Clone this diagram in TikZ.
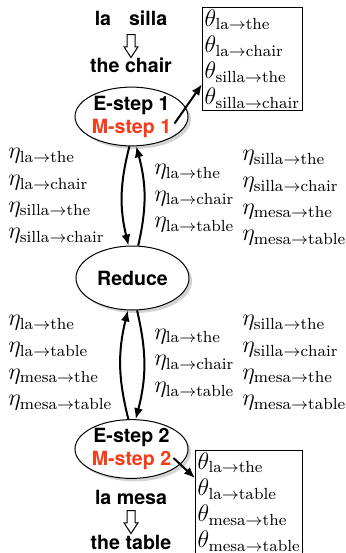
\documentclass[tikz,border=0pt]{standalone}
\usepackage{fontspec}
\setsansfont{TeX Gyre Heros}
\usetikzlibrary{arrows.meta, shapes.geometric, shapes.arrows, shadows, positioning}
\definecolor{mstepred}{HTML}{F43C18}

\begin{document}
\begin{tikzpicture}[
  x=0.5pt, y=-0.5pt,
  word/.style={font=\fontsize{9.8}{12}\selectfont\sffamily\bfseries, inner sep=0pt},
  stepnode/.style={ellipse, draw, fill=white, line width=0.5pt, inner sep=0pt,
                   minimum width=56.5pt, minimum height=28pt, align=center,
                   font=\fontsize{9.8}{11.5}\selectfont\sffamily\bfseries,
                   drop shadow={shadow xshift=1.5pt, shadow yshift=-1.5pt, opacity=0.35}},
  hollow/.style={single arrow, draw, fill=white, line width=0.5pt, inner sep=1.75pt,
                 shape border rotate=270, minimum height=11.5pt, minimum width=6.5pt,
                 single arrow head extend=1.5pt, single arrow tip angle=66},
  plist/.style={align=left, inner sep=0pt, font=\fontsize{11.5}{13.3}\selectfont},
  pbox/.style={draw, line width=0.6pt, align=left, inner sep=1pt,
               font=\fontsize{11.5}{13.1}\selectfont},
  arr/.style={-{Latex[length=5.5pt,width=4.5pt]}, line width=1pt},
]
\clip (0,0) rectangle (346,553);

%% FIRST SENTENCE PAIR
\node[word]   (src1)  at (131,18) {la\hspace{9pt}silla};
\node[hollow] (conv1) at (131,43) {};
\node[word]   (tgt1)  at (131,65) {the chair};

%% E-step 1 and its parameters
\node[stepnode, minimum height=28.5pt] (estep1) at (131.5,116.5)
  {E-step 1\\\textcolor{mstepred}{M-step 1}};
\node[pbox, anchor=north west] (theta1) at (202,7)
  {$\theta_{\mathrm{la}\to\mathrm{the}}$\\
   $\theta_{\mathrm{la}\to\mathrm{chair}}$\\
   $\theta_{\mathrm{silla}\to\mathrm{the}}$\\
   $\theta_{\mathrm{silla}\to\mathrm{chair}}$};

%% counts sent up and down (first pass)
\node[plist, anchor=west] (eta1l) at (8,196)
  {$\eta_{\mathrm{la}\to\mathrm{the}}$\\
   $\eta_{\mathrm{la}\to\mathrm{chair}}$\\
   $\eta_{\mathrm{silla}\to\mathrm{the}}$\\
   $\eta_{\mathrm{silla}\to\mathrm{chair}}$};
\node[plist, anchor=west] (eta1m) at (154,198.5)
  {$\eta_{\mathrm{la}\to\mathrm{the}}$\\
   $\eta_{\mathrm{la}\to\mathrm{chair}}$\\
   $\eta_{\mathrm{la}\to\mathrm{table}}$};
\node[plist, anchor=west] (eta1r) at (242,198)
  {$\eta_{\mathrm{silla}\to\mathrm{the}}$\\
   $\eta_{\mathrm{silla}\to\mathrm{chair}}$\\
   $\eta_{\mathrm{mesa}\to\mathrm{the}}$\\
   $\eta_{\mathrm{mesa}\to\mathrm{table}}$};

%% REDUCE
\node[stepnode, minimum height=32pt] (reduce) at (132.5,278) {Reduce};

%% counts sent up and down (second pass)
\node[plist, anchor=west] (eta2l) at (8,363)
  {$\eta_{\mathrm{la}\to\mathrm{the}}$\\
   $\eta_{\mathrm{la}\to\mathrm{table}}$\\
   $\eta_{\mathrm{mesa}\to\mathrm{the}}$\\
   $\eta_{\mathrm{mesa}\to\mathrm{table}}$};
\node[plist, anchor=west] (eta2m) at (154,363)
  {$\eta_{\mathrm{la}\to\mathrm{the}}$\\
   $\eta_{\mathrm{la}\to\mathrm{chair}}$\\
   $\eta_{\mathrm{la}\to\mathrm{table}}$};
\node[plist, anchor=west] (eta2r) at (242,363)
  {$\eta_{\mathrm{silla}\to\mathrm{the}}$\\
   $\eta_{\mathrm{silla}\to\mathrm{chair}}$\\
   $\eta_{\mathrm{mesa}\to\mathrm{the}}$\\
   $\eta_{\mathrm{mesa}\to\mathrm{table}}$};

%% E-step 2 and its parameters
\node[stepnode, minimum height=26.5pt] (estep2) at (131.5,449)
  {E-step 2\\\textcolor{mstepred}{M-step 2}};
\node[pbox, anchor=north west] (theta2) at (195,450)
  {$\theta_{\mathrm{la}\to\mathrm{the}}$\\
   $\theta_{\mathrm{la}\to\mathrm{table}}$\\
   $\theta_{\mathrm{mesa}\to\mathrm{the}}$\\
   $\theta_{\mathrm{mesa}\to\mathrm{table}}$};

%% SECOND SENTENCE PAIR
\node[word]   (src2)  at (131,497) {la mesa};
\node[hollow] (conv2) at (131,519) {};
\node[word]   (tgt2)  at (131,542) {the table};

%% Arrows
\draw[arr] ([shift={(43,7)}]estep1.center) -- ([shift={(0,-27)}]theta1.south west);
\draw[arr] ([shift={(42,9)}]estep2.center) -- ([shift={(0,28)}]theta2.north west);

\draw[arr] (estep1.-94) to[bend right=14] (reduce.97);
\draw[arr] (reduce.80) to[bend right=14] (estep1.-81);
\draw[arr] (estep2.96) to[bend left=14] (reduce.-98);
\draw[arr] (reduce.-82) to[bend left=14] (estep2.82);

\end{tikzpicture}
\end{document}
